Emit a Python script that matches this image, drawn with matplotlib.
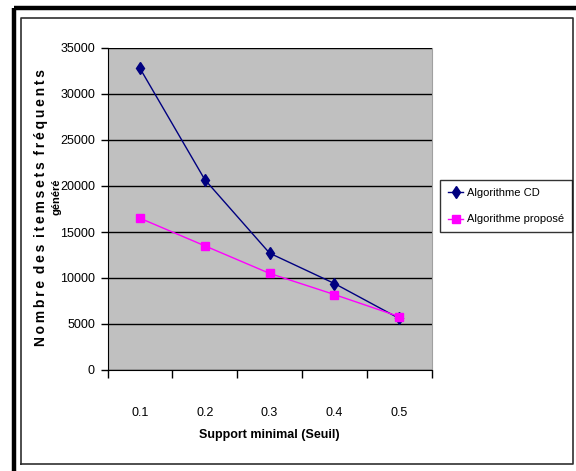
import matplotlib
matplotlib.use('Agg')
import matplotlib.pyplot as plt

# données
seuils = ['0.1', '0.2', '0.3', '0.4', '0.5']
algo_cd = [32800, 20700, 12700, 9400, 5600]
algo_propose = [16500, 13500, 10500, 8200, 5800]
y_ticks = [0, 5000, 10000, 15000, 20000, 25000, 30000, 35000]

plt.rcParams['font.family'] = ['Liberation Sans', 'DejaVu Sans']

W, H = 576, 471
fig = plt.figure(figsize=(W / 100, H / 100), dpi=100)

# cadre de la figure (coordonnées en pixels)
bg = fig.add_axes([0, 0, 1, 1])
bg.set_xlim(0, W)
bg.set_ylim(H, 0)
bg.axis('off')
bg.plot([14, 14], [8, H + 5], color='black', lw=3.2, solid_capstyle='butt')
bg.plot([14, W + 5], [8, 8], color='black', lw=3.2, solid_capstyle='butt')
bg.plot([21, 21, 573, 573, 21], [464, 18, 18, 464, 464], color='#303030', lw=1.2)

# zone de tracé
left, right, top, bottom = 107.5, 431.7, 48, 370
ax = fig.add_axes([left / W, 1 - bottom / H, (right - left) / W, (bottom - top) / H])
ax.set_facecolor('#c0c0c0')

x = range(1, len(seuils) + 1)
ax.plot(x, algo_cd, color='#000080', lw=1, marker='d', ms=6,
        markeredgecolor='#000080', label='Algorithme CD', zorder=3)
ax.plot(x, algo_propose, color='#ff00ff', lw=1, marker='s', ms=6,
        markeredgecolor='#ff00ff', label='Algorithme proposé', zorder=3)

ax.set_xlim(0.5, len(seuils) + 0.5)
ax.set_ylim(0, 35000)
ax.set_yticks(y_ticks)
ax.set_yticklabels([str(v) for v in y_ticks], fontsize=9)
ax.set_xticks(list(x))
ax.set_xticklabels(seuils, fontsize=9)
ax.set_xticks([i + 0.5 for i in range(0, len(seuils) + 1)], minor=True)
ax.tick_params(axis='x', which='major', length=0, pad=27)
ax.tick_params(axis='x', which='minor', length=6, width=1, direction='out')
ax.tick_params(axis='y', length=5, width=1, pad=4)
ax.grid(axis='y', color='black', lw=1)
ax.set_axisbelow(True)
ax.spines['top'].set_visible(False)
ax.spines['right'].set_color('#a0a0a0')

ax.set_xlabel('Support minimal (Seuil)', fontsize=9, fontweight='bold', labelpad=7)

# titre de l'axe Y sur deux lignes, lettres espacées
ligne1 = '\u2009 '.join('\u2009'.join(mot) for mot in 'Nombre des itemsets fréquents'.split())
fig.text(41 / W, 1 - 207 / H, ligne1,
         rotation=90, ha='center', va='center', fontsize=10, fontweight='bold')
fig.text(57 / W, 1 - 197 / H, 'généré',
         rotation=90, ha='center', va='center', fontsize=8, fontweight='bold')

leg = ax.legend(loc='upper left', bbox_to_anchor=(440 / W, 1 - 180 / H),
                bbox_transform=fig.transFigure, fontsize=8, frameon=True,
                fancybox=False, edgecolor='black', borderpad=0.7,
                handlelength=1.4, handletextpad=0.3, labelspacing=1.5,
                borderaxespad=0)
leg.get_frame().set_linewidth(1)

fig.savefig('out.png', dpi=100)
